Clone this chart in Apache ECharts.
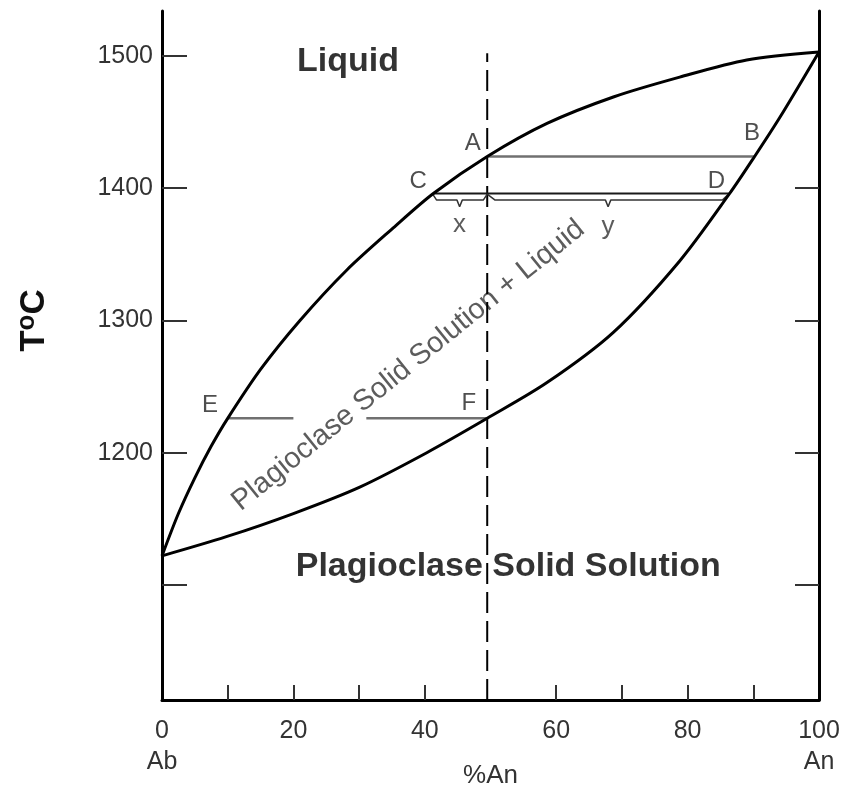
<!DOCTYPE html>
<html>
<head>
<meta charset="utf-8">
<script src="https://cdn.jsdelivr.net/npm/echarts@6/dist/echarts.min.js"></script>
<style>html,body{margin:0;padding:0;background:#fff}#c{width:854px;height:787px}</style>
</head>
<body>
<div id="c"></div>
<script>
// ---- data ----
const xLabelValues = [0, 20, 40, 60, 80, 100];
const xTickValues = [10, 20, 30, 40, 60, 70, 80, 90];
const xEndNames = ['Ab', 'An'];
const yTickValues = [1100, 1200, 1300, 1400, 1500];
const yLabelValues = [1200, 1300, 1400, 1500];
const rightTickValues = [1100, 1200, 1300, 1400];

const liquidus = [[0,1122],[2.5,1154],[5,1181],[7.5,1205],[10,1226],[15,1263],[21,1300],[28.1,1338],[35.2,1370],[41.3,1396],[49.5,1424],[58.6,1449],[68.7,1469],[78.8,1484],[89,1497],[100,1503]];
const solidus = [[0,1122],[9.8,1136.5],[20,1154],[30.1,1174],[40.3,1200],[49.5,1226],[58.6,1253],[68.7,1291],[78.8,1345],[86.4,1396],[90.2,1424],[94.1,1454],[100,1503]];

const tieAB = [[49.5,1424],[90.2,1424]];
const tieCD = [[41.3,1396],[86.4,1396]];
const tieEF = [[10,1226],[20,1226],['-','-'],[31.1,1226],[49.5,1226]];
const braceX = [[41.2,1395.5],[41.8,1391],[44.9,1391],[45.3,1386],[45.7,1391],[48.9,1391],[49.5,1395.5]];
const braceY = [[49.5,1395.5],[50.7,1391],[67.5,1391],[67.9,1386],[68.3,1391],[85.3,1391],[86.2,1395.5]];
const isopleth = [[49.5,1013],[49.5,1502]];

const pointNames = ['A','B','C','D','E','F'];
const pointPos = [[47.3,1434],[89.8,1441.5],[39,1405],[84.4,1405],[7.3,1236],[46.7,1237.5]];
const braceNames = ['x','y'];
const bracePos = [[45.3,1372],[67.9,1371]];

const fieldNames = ['Liquid','Plagioclase Solid Solution'];
const fieldPos = [[28.3,1496],[52.7,1114]];
const twoPhaseName = 'Plagioclase Solid Solution + Liquid';
const twoPhasePos = [37.5,1266];

// ---- chart ----
const FONT = 'Liberation Sans';
const chart = echarts.init(document.getElementById('c'), null, {renderer:'canvas'});

function lineSeries(data, color, width, extra) {
  return Object.assign({
    type:'line', data:data, symbol:'none', xAxisIndex:0, yAxisIndex:0,
    lineStyle:{color:color, width:width}, silent:true, animation:false
  }, extra || {});
}
function textSeries(names, pos, style, rotate) {
  return {
    type:'scatter', symbolSize:1, itemStyle:{color:'rgba(0,0,0,0)'}, silent:true,
    data: names.map((n,i)=>({name:n, value:pos[i]})),
    label:Object.assign({show:true, position:'inside', formatter:p=>p.name, rotate:rotate||0}, style)
  };
}

const option = {
  animation:false,
  backgroundColor:'#fff',
  grid:{left:162, right:35, top:11, bottom:87, containLabel:false, outerBoundsMode:'none'},
  xAxis:{
    type:'value', min:0, max:100, interval:10,
    axisLine:{lineStyle:{color:'#000', width:3}},
    axisTick:{inside:true, length:15, customValues:xTickValues, lineStyle:{color:'#333', width:2}},
    axisLabel:{
      customValues:xLabelValues, margin:16, fontSize:25, color:'#333', fontFamily:FONT, lineHeight:31,
      formatter:v => v === xLabelValues[0] ? v + '\n' + xEndNames[0] : (v === xLabelValues[xLabelValues.length-1] ? v + '\n' + xEndNames[1] : String(v))
    },
    splitLine:{show:false},
    name:'%An', nameLocation:'middle', nameGap:63, nameMoveOverlap:false,
    nameTextStyle:{fontSize:26, color:'#333', fontFamily:FONT}
  },
  yAxis:[{
    type:'value', min:1013, max:1534, position:'left',
    axisLine:{show:true, lineStyle:{color:'#000', width:3}},
    axisTick:{show:true, inside:true, length:25, customValues:yTickValues, lineStyle:{color:'#333', width:2}},
    axisLabel:{customValues:yLabelValues, margin:9, fontSize:25, color:'#333', fontFamily:FONT, formatter:v=>String(v)},
    splitLine:{show:false},
    name:'{t|T}{s|o}{t|C}', nameLocation:'middle', nameGap:108, nameRotate:90, nameMoveOverlap:false,
    nameTextStyle:{padding:[0,0,0,70], rich:{
      t:{fontSize:35, fontWeight:'bold', fontFamily:FONT, color:'#111', lineHeight:40},
      s:{fontSize:26, fontWeight:'bold', fontFamily:FONT, color:'#111', lineHeight:26, verticalAlign:'top'}
    }}
  },{
    type:'value', min:1013, max:1534, position:'right',
    axisLine:{show:true, lineStyle:{color:'#000', width:3}},
    axisTick:{show:true, inside:true, length:24, customValues:rightTickValues, lineStyle:{color:'#333', width:2}},
    axisLabel:{show:false},
    splitLine:{show:false}
  }],
  series:[
    lineSeries(isopleth, '#000', 2, {lineStyle:{color:'#000', width:2, type:[21,8]}}),
    lineSeries(tieAB, '#707070', 2.5),
    lineSeries(tieCD, '#1a1a1a', 2),
    lineSeries(tieEF, '#707070', 2.5, {connectNulls:false}),
    lineSeries(braceX, '#333', 1.5),
    lineSeries(braceY, '#333', 1.5),
    lineSeries(liquidus, '#000', 3, {smooth:0.3}),
    lineSeries(solidus, '#000', 3, {smooth:0.3}),
    textSeries(pointNames, pointPos, {fontSize:24, color:'#222', fontFamily:FONT}),
    textSeries(braceNames, bracePos, {fontSize:26, color:'#333', fontFamily:FONT}),
    textSeries(fieldNames, fieldPos, {fontSize:34, fontWeight:'bold', color:'#000', fontFamily:FONT}),
    textSeries([twoPhaseName], [twoPhasePos], {fontSize:29, color:'#333', fontFamily:FONT}, 39)
  ]
};
chart.setOption(option);
</script>
</body>
</html>
